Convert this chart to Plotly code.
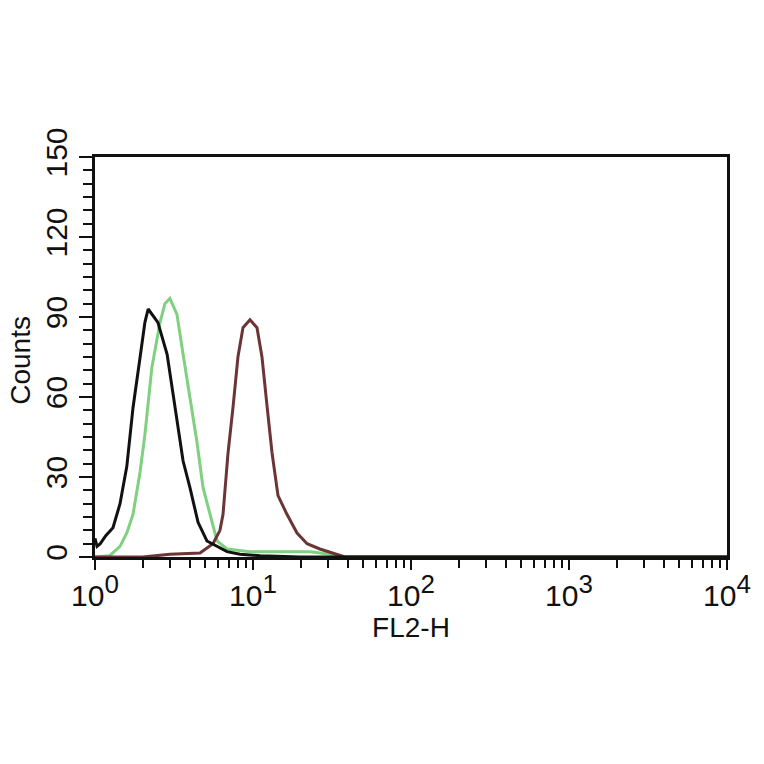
import plotly.graph_objects as go

# Black (control) histogram
black_x = [1.0, 1.03, 1.08, 1.17, 1.30, 1.44, 1.59, 1.74, 1.93, 2.07, 2.17, 2.29, 2.50, 2.86,
           3.30, 3.61, 3.99, 4.49, 5.11, 5.92, 6.85, 8.27, 11.1, 20.0, 10000]
black_y = [7, 4, 5, 8, 11, 20, 34, 56, 75, 88, 93, 91, 88, 76,
           51, 36, 26, 13, 6, 4, 2, 1, 0.5, 0, 0]

# Green histogram
green_x = [1.0, 1.24, 1.44, 1.59, 1.74, 1.93, 2.07, 2.29, 2.58, 2.77, 2.98, 3.30, 3.61, 3.99,
           4.42, 4.83, 5.34, 5.92, 6.85, 9.57, 14.8, 23.0, 30.7, 35.5, 10000]
green_y = [0, 0.5, 4, 9, 16, 32, 46, 71, 88, 95, 97, 91, 76, 59,
           43, 26, 16, 6, 3, 2, 2, 2, 1, 0, 0]

# Red histogram
red_x = [1.0, 2.0, 2.98, 4.62, 5.58, 6.18, 6.46, 6.95, 7.47, 8.03, 8.64, 9.57, 10.6, 11.4,
         12.3, 13.2, 14.4, 16.4, 19.0, 22.0, 26.5, 32.1, 38.2, 10000]
red_y = [0, 0, 1, 1.5, 5, 10, 16, 39, 56, 75, 86, 89, 86, 75,
         56, 39, 23, 16, 9, 5, 3, 1.5, 0, 0]

x_tickvals = [1, 10, 100, 1000, 10000]
x_ticktext = ["10<sup><span style='font-size:26px'>%d</span></sup>" % i for i in range(5)]
y_tickvals = [0, 30, 60, 90, 120, 150]

fig = go.Figure()
fig.add_trace(go.Scatter(x=green_x, y=green_y, mode="lines",
                         line=dict(color="#7fd07f", width=3), showlegend=False))
fig.add_trace(go.Scatter(x=red_x, y=red_y, mode="lines",
                         line=dict(color="#6b3535", width=3), showlegend=False))
fig.add_trace(go.Scatter(x=black_x, y=black_y, mode="lines",
                         line=dict(color="#111111", width=3), showlegend=False))

font_family = "Liberation Sans, Arial, sans-serif"
fig.update_layout(
    width=764, height=764,
    margin=dict(l=87, r=45, t=149, b=215, autoexpand=False),
    paper_bgcolor="white", plot_bgcolor="white",
    font=dict(family=font_family, color="#111111"),
    xaxis=dict(type="log", range=[0, 4], tickvals=x_tickvals, ticktext=x_ticktext,
               automargin=False,
               ticks="outside", ticklen=10, tickwidth=2, tickcolor="#111111",
               showline=True, linewidth=3, linecolor="#111111", mirror=True,
               showgrid=False, zeroline=False,
               tickfont=dict(size=30),
               minor=dict(dtick="D1", ticks="outside", ticklen=8, tickwidth=2,
                          tickcolor="#111111", showgrid=False),
               title=dict(text="FL2-H", font=dict(size=28), standoff=2)),
    yaxis=dict(range=[0, 150], tickvals=y_tickvals, automargin=False,
               ticks="outside", ticklen=13, tickwidth=2, tickcolor="#111111",
               showline=True, linewidth=3, linecolor="#111111", mirror=True,
               showgrid=False, zeroline=False, tickangle=-90,
               tickfont=dict(size=30), ticklabelstandoff=0,
               minor=dict(dtick=5, ticks="outside", ticklen=9, tickwidth=2,
                          tickcolor="#111111", showgrid=False)),
    annotations=[dict(text="Counts", textangle=-90, xref="paper", yref="paper",
                      x=-0.119, y=0.4925, xanchor="center", yanchor="middle",
                      showarrow=False, font=dict(size=28, color="#111111"))],
)

fig.write_html("out.html")
